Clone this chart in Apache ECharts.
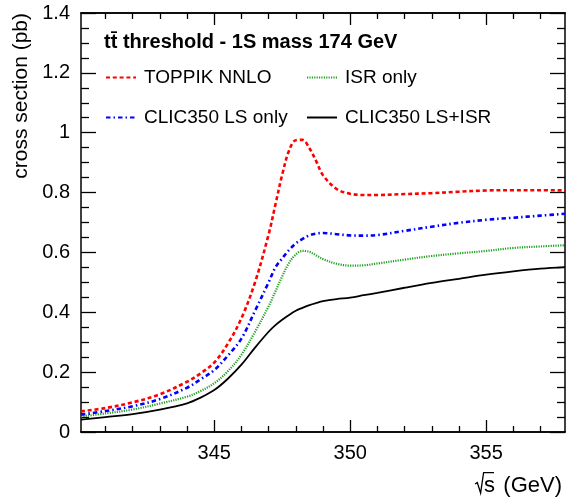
<!DOCTYPE html>
<html>
<head>
<meta charset="utf-8">
<script src="https://cdn.jsdelivr.net/npm/echarts@6/dist/echarts.min.js"></script>
<style>
html,body{margin:0;padding:0;background:#fff;}
#c{width:566px;height:498px;}
</style>
</head>
<body>
<div id="c"></div>
<script>
// sqrt(s) in GeV
const xVals = [340.1, 341, 342, 343, 344, 344.5, 345, 345.5, 346, 346.5, 347, 347.25, 347.5, 347.75, 348, 348.25, 348.5, 348.75, 349, 349.5, 350, 350.5, 351, 352, 353, 354, 355, 356, 357, 357.9];
// cross sections (pb)
const toppik = [0.069, 0.080, 0.099, 0.126, 0.168, 0.196, 0.232, 0.295, 0.380, 0.500, 0.660, 0.760, 0.860, 0.940, 0.975, 0.976, 0.948, 0.905, 0.858, 0.812, 0.796, 0.792, 0.792, 0.795, 0.798, 0.803, 0.807, 0.808, 0.808, 0.807];
const lsOnly = [0.058, 0.070, 0.086, 0.110, 0.148, 0.176, 0.207, 0.255, 0.312, 0.405, 0.500, 0.550, 0.580, 0.608, 0.630, 0.645, 0.657, 0.663, 0.665, 0.661, 0.657, 0.656, 0.658, 0.672, 0.686, 0.699, 0.709, 0.716, 0.723, 0.729];
const isrOnly = [0.052, 0.062, 0.075, 0.095, 0.118, 0.137, 0.163, 0.203, 0.258, 0.335, 0.420, 0.470, 0.520, 0.565, 0.593, 0.605, 0.602, 0.590, 0.578, 0.562, 0.556, 0.557, 0.563, 0.576, 0.588, 0.597, 0.605, 0.615, 0.620, 0.624];
const lsIsr = [0.041, 0.050, 0.060, 0.075, 0.096, 0.115, 0.140, 0.178, 0.225, 0.282, 0.335, 0.357, 0.375, 0.391, 0.405, 0.415, 0.424, 0.431, 0.437, 0.444, 0.449, 0.457, 0.465, 0.482, 0.498, 0.512, 0.526, 0.537, 0.546, 0.551];
const xMajorTicks = [345, 350, 355];
const xMinorTicks = [341, 342, 343, 344, 346, 347, 348, 349, 351, 352, 353, 354, 356, 357];
const seriesNames = ['TOPPIK NNLO', 'ISR only', 'CLIC350 LS only', 'CLIC350 LS+ISR'];
const titleText = 'tt\u0304 threshold - 1S mass 174 GeV';
const yTitle = 'cross section (pb)';
const xTitleVar = 's';
const xTitleUnit = '(GeV)';

const FONT = '"Liberation Sans", Arial, Helvetica, sans-serif';
const X_MIN = 340.1, X_MAX = 357.9;

function pairs(ys) { return xVals.map((x, i) => [x, ys[i]]); }

function xAxisDef(pos, ticks, len, labels) {
  return {
    type: 'value', position: pos, min: X_MIN, max: X_MAX,
    axisLine: { show: true, onZero: false, lineStyle: { color: '#000', width: 1.5 } },
    axisTick: { show: true, inside: true, length: len, customValues: ticks, lineStyle: { color: '#000', width: 1.3 } },
    axisLabel: labels ? { show: true, customValues: ticks, fontSize: 20, color: '#000', fontFamily: FONT, margin: 11 } : { show: false },
    splitLine: { show: false }, minorTick: { show: false }
  };
}
function yAxisDef(pos, labels) {
  return {
    type: 'value', position: pos, min: 0, max: 1.4, interval: 0.2,
    axisLine: { show: true, onZero: false, lineStyle: { color: '#000', width: 1.5 } },
    axisTick: { show: true, inside: true, length: 15, lineStyle: { color: '#000', width: 1.3 } },
    minorTick: { show: true, splitNumber: 4, length: 8, lineStyle: { color: '#000', width: 1.3 } },
    axisLabel: labels ? { show: true, fontSize: 20, color: '#000', fontFamily: FONT, margin: 11 } : { show: false },
    splitLine: { show: false }
  };
}
function legendDef(name, left, top) {
  return {
    data: [name], left: left, top: top, orient: 'horizontal',
    itemWidth: 30, itemHeight: 14, padding: 0, selectedMode: false,
    itemStyle: { opacity: 0 },
    textStyle: { fontSize: 19, color: '#000', fontFamily: FONT, padding: [0, 0, 0, 3] }
  };
}

const chart = echarts.init(document.getElementById('c'), null, { renderer: 'canvas' });
chart.setOption({
  animation: false,
  backgroundColor: '#fff',
  grid: { left: 81, right: 1, top: 13, bottom: 66, containLabel: false, outerBoundsMode: 'none' },
  xAxis: [
    xAxisDef('bottom', xMajorTicks, 12, true),
    xAxisDef('bottom', xMinorTicks, 6, false),
    xAxisDef('top', xMajorTicks, 12, false),
    xAxisDef('top', xMinorTicks, 6, false)
  ],
  yAxis: [yAxisDef('left', true), yAxisDef('right', false)],
  legend: [
    legendDef(seriesNames[0], 105, 68),
    legendDef(seriesNames[1], 306, 68),
    legendDef(seriesNames[2], 105, 108),
    legendDef(seriesNames[3], 306, 108)
  ],
  graphic: [
    { type: 'text', left: 104, top: 32, style: { text: titleText, font: 'bold 20px ' + FONT, fill: '#000' } },
    { type: 'text', x: 21, y: 13, rotation: Math.PI / 2, style: { text: yTitle, font: '21px ' + FONT, fill: '#000', align: 'right', verticalAlign: 'middle' } },
    { type: 'polyline', shape: { points: [[475, 484], [477.3, 482.6], [480.6, 493], [483.6, 472.6], [494, 472.6]] }, style: { stroke: '#000', lineWidth: 1.3, fill: null } },
    { type: 'text', x: 484, y: 486, style: { text: xTitleVar, font: '22px ' + FONT, fill: '#000', align: 'left', verticalAlign: 'middle' } },
    { type: 'text', x: 562, y: 486, style: { text: xTitleUnit, font: '22px ' + FONT, fill: '#000', align: 'right', verticalAlign: 'middle' } }
  ],
  series: [
    { name: seriesNames[3], type: 'line', xAxisIndex: 0, yAxisIndex: 0, data: pairs(lsIsr), smooth: 0.35, symbol: 'none', color: '#000', lineStyle: { color: '#000', width: 1.8, type: 'solid' } },
    { name: seriesNames[1], type: 'line', xAxisIndex: 0, yAxisIndex: 0, data: pairs(isrOnly), smooth: 0.35, symbol: 'none', color: '#22a022', lineStyle: { color: '#22a022', width: 2.2, type: [1.2, 1.2] } },
    { name: seriesNames[2], type: 'line', xAxisIndex: 0, yAxisIndex: 0, data: pairs(lsOnly), smooth: 0.35, symbol: 'none', color: '#0000ff', lineStyle: { color: '#0000ff', width: 2.6, type: [4.5, 3, 1.5, 3] } },
    { name: seriesNames[0], type: 'line', xAxisIndex: 0, yAxisIndex: 0, data: pairs(toppik), smooth: 0.35, symbol: 'none', color: '#ff0000', lineStyle: { color: '#ff0000', width: 2.6, type: [4, 2.8] } }
  ]
});
</script>
</body>
</html>
